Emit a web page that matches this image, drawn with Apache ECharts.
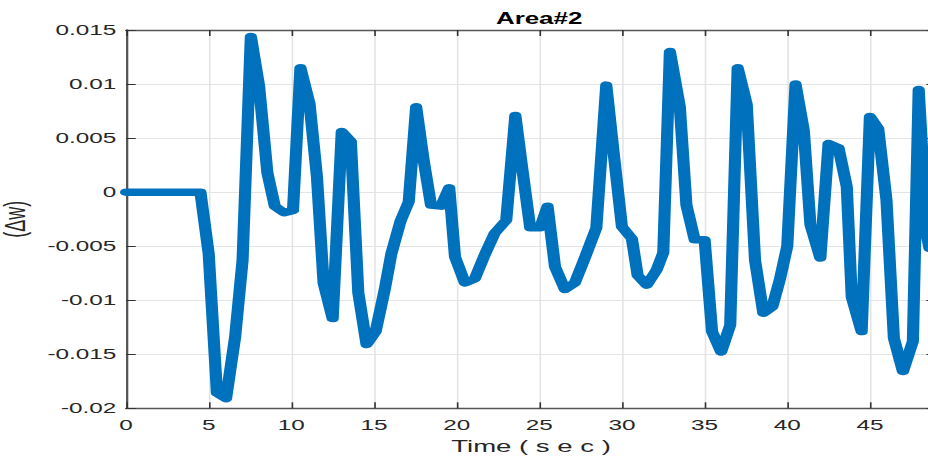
<!DOCTYPE html>
<html>
<head>
<meta charset="utf-8">
<title>Area#2</title>
<script src="https://cdn.jsdelivr.net/npm/echarts@6/dist/echarts.min.js"></script>
<style>
  html, body { margin: 0; padding: 0; background: #fff; overflow: hidden; }
  #wrap { width: 928px; height: 459px; overflow: hidden; position: relative; }
  /* the figure is laid out narrow and widened horizontally */
  #chart { width: 573px; height: 459px; transform: scaleX(1.62); transform-origin: 0 0; }
</style>
</head>
<body>
<div id="wrap"><div id="chart"></div></div>
<script>
// Frequency deviation of area 2 versus time
const timeSec = [0, 4.5, 5.0, 5.5, 6.05, 6.6, 7.05, 7.55, 8.05, 8.55,
  9.0, 9.55, 10.1, 10.55, 11.1, 11.55, 11.95, 12.5, 13.05, 13.6,
  14.05, 14.55, 15.1, 15.65, 16.05, 16.6, 17.1, 17.55, 18.0, 18.45,
  19.05, 19.55, 19.9, 20.5, 21.1, 21.7, 22.3, 23.0, 23.55, 23.95,
  24.45, 25.05, 25.5, 25.95, 26.55, 27.15, 27.75, 28.45, 29.05, 29.5,
  30.0, 30.6, 30.95, 31.5, 32.1, 32.5, 32.9, 33.5, 33.9, 34.4,
  35.0, 35.45, 36.0, 36.55, 37.0, 37.55, 38.05, 38.55, 39.1, 39.55,
  40.0, 40.5, 41.0, 41.4, 42.0, 42.5, 43.1, 43.6, 43.9, 44.5,
  45.0, 45.5, 46.0, 46.45, 47.0, 47.6, 47.95, 48.45, 48.6];

const deltaW = [0, 0, -0.0057, -0.0186, -0.0191, -0.0134, -0.0063, 0.0144, 0.0098, 0.0018,
  -0.0013, -0.0019, -0.0017, 0.0115, 0.0082, 0.0014, -0.0084, -0.0117, 0.0056, 0.0047,
  -0.0093, -0.0141, -0.0129, -0.0090, -0.0057, -0.0027, -0.0009, 0.0079, 0.0030, -0.0012,
  -0.0013, 0.0004, -0.0060, -0.0084, -0.0080, -0.0058, -0.0038, -0.0026, 0.0071, 0.0024,
  -0.0033, -0.0033, -0.0013, -0.0069, -0.0090, -0.0084, -0.0061, -0.0033, 0.0099, 0.0036,
  -0.0032, -0.0043, -0.0077, -0.0086, -0.0072, -0.0056, 0.0130, 0.0079, -0.0012, -0.0044,
  -0.0044, -0.0129, -0.0148, -0.0123, 0.0115, 0.0081, -0.0063, -0.0112, -0.0106, -0.0081,
  -0.0050, 0.0100, 0.0057, -0.0030, -0.0061, 0.0045, 0.0041, 0.0005, -0.0097, -0.0129,
  0.0070, 0.0059, -0.0007, -0.0135, -0.0166, -0.0138, 0.0095, -0.0040, -0.0052];

const xTicks = [0, 5, 10, 15, 20, 25, 30, 35, 40, 45];
const yTickLabels = ['-0.02', '-0.015', '-0.01', '-0.005', '0', '0.005', '0.01', '0.015'];

const points = timeSec.map((t, i) => [t, deltaW[i]]);

const font = 'Liberation Sans, Arial, Helvetica, sans-serif';
const axisColor = '#555555';
const gridColor = '#e4e4e4';

const chart = echarts.init(document.getElementById('chart'), null, { renderer: 'svg' });

const baseX = {
  type: 'value', min: 0, max: 49, interval: 5,
  axisLine: { show: true, onZero: false, lineStyle: { color: axisColor, width: 1.4 } },
  axisTick: { show: true, inside: true, length: 6, lineStyle: { color: '#333', width: 1 } }
};
const baseY = {
  type: 'value', min: -0.02, max: 0.015, interval: 0.005,
  axisLine: { show: true, onZero: false, lineStyle: { color: axisColor, width: 1.4 } },
  axisTick: { show: true, inside: true, length: 6, lineStyle: { color: '#333', width: 1 } }
};

chart.setOption({
  animation: false,
  backgroundColor: '#ffffff',
  title: {
    text: 'Area#2',
    left: 327.8, top: 6, textAlign: 'center',
    textStyle: { fontFamily: font, fontWeight: 'bold', fontSize: 16, color: '#000' }
  },
  grid: { left: 77.8, top: 30, width: 500, height: 378.3, outerBoundsMode: 'none', containLabel: false },
  xAxis: [
    Object.assign({}, baseX, {
      position: 'bottom',
      name: 'Time ( s e c )', nameLocation: 'middle', nameGap: 27,
      nameTextStyle: { fontFamily: font, fontSize: 17, color: '#262626' },
      axisLabel: {
        margin: 9, fontFamily: font, fontSize: 15, color: '#262626',
        showMaxLabel: false,
        formatter: v => (xTicks.indexOf(v) >= 0 ? String(v) : '')
      },
      splitLine: { show: true, lineStyle: { color: gridColor, width: 1 } }
    }),
    Object.assign({}, baseX, {
      position: 'top',
      axisLabel: { show: false },
      splitLine: { show: false }
    })
  ],
  yAxis: [
    Object.assign({}, baseY, {
      position: 'left',
      name: '(\u0394w)', nameLocation: 'middle', nameRotate: 90, nameGap: 55,
      nameTextStyle: { fontFamily: font, fontSize: 18, color: '#262626', padding: [0, 0, 0, 0] },
      axisLabel: {
        margin: 6, fontFamily: font, fontSize: 15, color: '#262626',
        formatter: v => {
          const idx = Math.round((v + 0.02) / 0.005);
          return yTickLabels[idx] !== undefined ? yTickLabels[idx] : '';
        }
      },
      splitLine: { show: true, lineStyle: { color: gridColor, width: 1.2 } }
    }),
    Object.assign({}, baseY, {
      position: 'right',
      axisLabel: { show: false },
      splitLine: { show: false }
    })
  ],
  series: [{
    type: 'line',
    xAxisIndex: 0, yAxisIndex: 0,
    data: points,
    showSymbol: false,
    clip: true,
    lineStyle: { color: '#0072BD', width: 7.5, join: 'round', cap: 'round' },
    itemStyle: { color: '#0072BD' }
  }]
});
</script>
</body>
</html>
